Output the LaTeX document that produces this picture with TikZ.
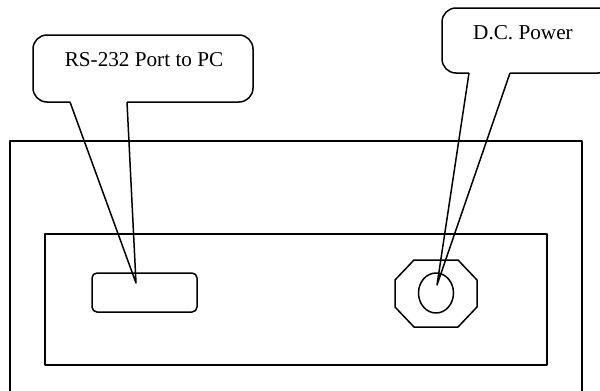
\documentclass[tikz,border=0pt]{standalone}
\usepackage{fontspec}
\setmainfont{Liberation Serif}
\begin{document}
\begin{tikzpicture}[x=1pt,y=-1pt,
  outl/.style={line width=1.5pt, line join=round},
  lbl/.style={font=\fontsize{21.2}{24}\selectfont, inner sep=0pt}]
\useasboundingbox (0,0) rectangle (600,391);
\clip (0,0) rectangle (600,391);
\fill[white] (0,0) rectangle (600,391);
% housing
\draw[outl] (10,141) rectangle (582,420);
\draw[outl] (45,234) rectangle (547,365);
% RS-232 connector
\draw[outl, rounded corners=5pt] (92,273) rectangle (197,312);
% DC jack
\draw[outl] (414,260) -- (458,260) -- (477,280) -- (477,307) -- (458,327) -- (414,327) -- (395,307) -- (395,280) -- cycle;
\draw[outl] (436,293) ellipse [x radius=17.5, y radius=20];
% callout 1
\coordinate (t1) at (136,283);
\draw[outl, rounded corners=14pt] (70,102) -- (33,102) -- (33,35) -- (253,35) -- (253,102) -- (127,102);
\draw[outl] (70,102) -- (t1) -- (127,102);
\node[lbl] (c1) at (144,60) {RS-232 Port to PC};
% callout 2
\coordinate (t2) at (437,285);
\draw[outl, rounded corners=14pt] (469,73) -- (442,73) -- (442,8) -- (612,8) -- (612,73) -- (510,73);
\draw[outl] (469,73) -- (t2) -- (510,73);
\node[lbl] (c2) at (523,33) {D.C. Power};
\end{tikzpicture}
\end{document}
